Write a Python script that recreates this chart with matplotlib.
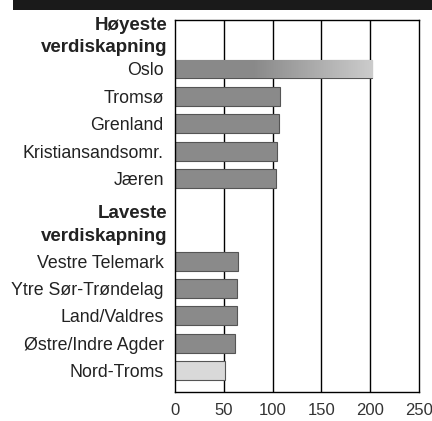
import numpy as np
import matplotlib.pyplot as plt
from matplotlib.patches import Rectangle

plt.rcParams['font.family'] = ['Liberation Sans Narrow', 'Liberation Sans', 'DejaVu Sans']

top_names = ["Oslo", "Tromsø", "Grenland", "Kristiansandsomr.", "Jæren"]
top_values = [202, 107.5, 107, 104.5, 103]
low_names = ["Vestre Telemark", "Ytre Sør-Trøndelag", "Land/Valdres",
             "Østre/Indre Agder", "Nord-Troms"]
low_values = [64.5, 64, 63.5, 61, 51]
xticks = [0, 50, 100, 150, 200, 250]

top_pos = np.arange(5)
low_pos = np.arange(7, 12)

fig = plt.figure(figsize=(4.32, 4.21), dpi=100)
ax = fig.add_axes([0.405, 0.069, 0.565, 0.8835])

# dark band at the very top
fig.patches.append(Rectangle((0.03, 0.976), 0.97, 0.024, transform=fig.transFigure,
                             facecolor="#1a1a1a", edgecolor="none"))

for x in xticks[1:-1]:
    ax.axvline(x, color="black", linewidth=1.0, zorder=1)

bar_h = 0.69
top_colors = ["#a8a8a8"] + ["#8a8a8a"] * 4
low_colors = ["#8a8a8a"] * 4 + ["#d9d9d9"]
bars1 = ax.barh(top_pos, top_values, height=bar_h, color=top_colors,
                edgecolor="#555555", linewidth=0.8, zorder=2)
bars2 = ax.barh(low_pos, low_values, height=bar_h, color=low_colors,
                edgecolor="#555555", linewidth=0.8, zorder=2)

# Oslo bar: dark on the left, fading lighter to the right
oslo = bars1[0]
t = np.linspace(0, 1, 256)
g = np.where(t < 0.4, 0.54, 0.54 + (t - 0.4) / 0.6 * 0.26)
grad = np.dstack([g, g, g]).reshape(1, -1, 3)
im = ax.imshow(grad, aspect="auto",
               extent=[0, top_values[0], -bar_h / 2, bar_h / 2], zorder=2.5)
im.set_clip_path(oslo)

ax.set_xlim(0, 250)
ax.set_ylim(11.77, -1.785)
ax.set_xticks(xticks)
ax.set_xticklabels([str(v) for v in xticks], fontsize=12, color="#333333")
ax.tick_params(axis="x", length=0, pad=8)
ax.set_yticks(list(top_pos) + list(low_pos))
ax.set_yticklabels(top_names + low_names, fontsize=12.8, color="#222222")
ax.tick_params(axis="y", length=0, pad=8)
for s in ax.spines.values():
    s.set_linewidth(1.0)

for txt, y in [("Høyeste", -1.6), ("verdiskapning", -0.77),
               ("Laveste", 5.25), ("verdiskapning", 6.1)]:
    ax.text(-8, y, txt, ha="right", va="center", fontsize=13.5,
            fontweight="bold", color="#222222", clip_on=False)

fig.savefig("out.png", dpi=100)
